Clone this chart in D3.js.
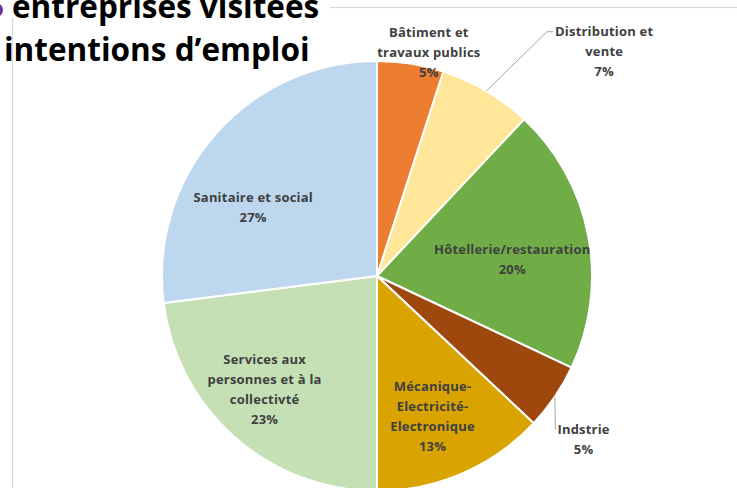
<!DOCTYPE html>
<html><head><meta charset="utf-8">
<script src="https://cdn.jsdelivr.net/npm/d3@7"></script>
<style>
html,body{margin:0;padding:0;background:#fff;}
svg{display:block;}
</style></head>
<body>
<svg id="chart" width="737" height="488"></svg>
<script>
// ---- data ----
const categories = ["Bâtiment et travaux publics","Distribution et vente","Hôtellerie/restauration","Indstrie","Mécanique-Electricité-Electronique","Services aux personnes et à la collectivté","Sanitaire et social"];
const values = [5, 7, 20, 5, 13, 23, 27];
const labelLines = [
  ["Bâtiment et","travaux publics","5%"],
  ["Distribution et","vente","7%"],
  ["Hôtellerie/restauration","20%"],
  ["Indstrie","5%"],
  ["Mécanique-","Electricité-","Electronique","13%"],
  ["Services aux","personnes et à la","collectivté","23%"],
  ["Sanitaire et social","27%"]
];
const colors = ["#ED7D31","#FFE699","#70AD47","#9E480E","#D9A300","#C5E0B4","#BDD7EE"];
const titleLines = ["entreprises visitées","intentions d’emploi"];

// ---- layout ----
const W = 737, H = 488;
const cx = 377, cy = 276, R = 215;
const labelOffsets = [[30,-86],[156,-104],[-2,10],[91,85],[0,12],[-20,9],[-19,24]];
const leader = [false,true,false,true,false,false,false];

const svg = d3.select("#chart");

// chart frame
svg.append("rect").attr("x",12.5).attr("y",7.5).attr("width",740).attr("height",500)
  .attr("fill","#fff").attr("stroke","#d9d9d9").attr("stroke-width",1.2);

const pie = d3.pie().sort(null).value(d=>d);
const arcs = pie(values);
const arc = d3.arc().innerRadius(0).outerRadius(R);
const labelArc = d3.arc().innerRadius(R*0.65).outerRadius(R*0.65);
const edgeArc = d3.arc().innerRadius(R).outerRadius(R);

const g = svg.append("g").attr("transform",`translate(${cx},${cy})`);
g.selectAll("path.slice").data(arcs).enter().append("path")
  .attr("class","slice")
  .attr("d",arc)
  .attr("fill",(d,i)=>colors[i])
  .attr("stroke","#fff").attr("stroke-width",2).attr("stroke-linejoin","round");

const lh = 20;
const labels = g.selectAll("text.lbl").data(arcs).enter().append("text")
  .attr("class","lbl")
  .attr("text-anchor","middle")
  .attr("font-family","'Open Sans', Lato, sans-serif")
  .attr("font-weight","bold")
  .attr("font-size","13px")
  .attr("letter-spacing","0.2px")
  .attr("fill","#404040")
  .each(function(d,i){
    const c = labelArc.centroid(d);
    const x = c[0] + labelOffsets[i][0];
    const y = c[1] + labelOffsets[i][1];
    const lines = labelLines[i];
    const y0 = y - (lines.length-1)*lh/2;
    const t = d3.select(this);
    lines.forEach((s,k)=>{
      t.append("tspan").attr("x",x).attr("y",y0 + k*lh).attr("dy","0.35em").text(s);
    });
    d.lx = x; d.ly0 = y0;
  });

// leader lines
labels.each(function(d,i){
  if(!leader[i]) return;
  const s = edgeArc.centroid(d);
  const first = this.querySelector("tspan");
  const bb = first.getBBox();
  const ex = bb.x - 2, ey = d.ly0;
  let pts;
  if (i === 1) pts = [s, [ex-6, ey], [ex, ey]];
  else pts = [s, [ex, ey]];
  g.insert("path","text").attr("d", d3.line()(pts))
    .attr("fill","none").attr("stroke","#a6a6a6").attr("stroke-width",1);
});

// title (partially cropped in reference)
svg.append("rect").attr("x",0).attr("y",0).attr("width",330).attr("height",18).attr("fill","#fff");
svg.append("circle").attr("cx",-4).attr("cy",10).attr("r",7).attr("fill","#7030A0");
const title = svg.append("text")
  .attr("font-family","'Open Sans', sans-serif")
  .attr("font-weight","bold")
  .attr("font-size","31.5px")
  .attr("fill","#000");
title.append("tspan").attr("x",12).attr("y",18).text(titleLines[0]);
title.append("tspan").attr("x",4).attr("y",61).text(titleLines[1]);
</script>
</body></html>
